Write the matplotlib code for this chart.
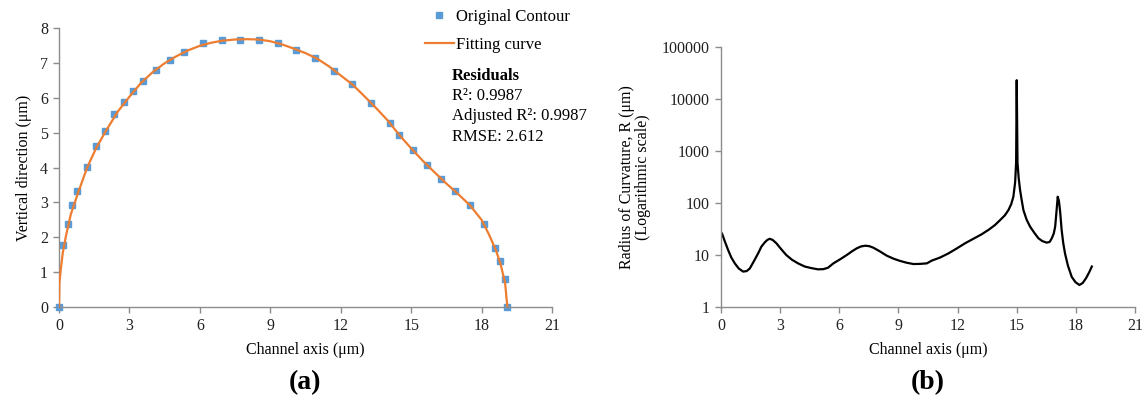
import matplotlib
matplotlib.use("Agg")
import matplotlib.pyplot as plt
from matplotlib.ticker import FixedLocator, FuncFormatter

plt.rcParams['font.family'] = ['Liberation Serif', 'DejaVu Serif']

# (a) contour points
contour_x = [0.0, 0.16, 0.37, 0.57, 0.78, 1.18, 1.58, 1.96, 2.36, 2.76, 3.15, 3.56,
             4.14, 4.74, 5.34, 6.13, 6.93, 7.72, 8.52, 9.31, 10.11, 10.91, 11.70,
             12.49, 13.29, 14.08, 14.48, 15.08, 15.67, 16.27, 16.87, 17.49, 18.09,
             18.58, 18.78, 18.98, 19.08]
contour_y = [0.0, 1.78, 2.38, 2.92, 3.33, 4.02, 4.61, 5.04, 5.52, 5.87, 6.18, 6.48,
             6.81, 7.09, 7.31, 7.56, 7.65, 7.67, 7.67, 7.57, 7.38, 7.15, 6.78,
             6.38, 5.85, 5.29, 4.94, 4.49, 4.07, 3.68, 3.32, 2.93, 2.39,
             1.70, 1.31, 0.81, 0.0]

# (a) fitted curve
fit_x = [0.0, 0.02, 0.08, 0.16, 0.3, 0.5, 0.8, 1.2, 1.6, 2.0, 2.5, 3.0, 3.5, 4.0,
         4.5, 5.0, 5.5, 6.0, 6.5, 7.0, 7.5, 8.0, 8.5, 9.0, 9.5, 10.0, 10.5, 11.0,
         11.5, 12.0, 12.5, 13.0, 13.5, 14.0, 14.5, 15.0, 15.5, 16.0, 16.5, 17.0,
         17.5, 18.0, 18.3, 18.6, 18.8, 19.0, 19.1]
fit_y = [0.0, 0.7, 1.1, 1.55, 2.05, 2.65, 3.25, 4.0, 4.58, 5.05, 5.6, 6.03, 6.43, 6.74,
         6.99, 7.19, 7.36, 7.49, 7.58, 7.64, 7.67, 7.68, 7.67, 7.62, 7.53, 7.41, 7.28, 7.12,
         6.9, 6.64, 6.38, 6.05, 5.71, 5.35, 4.93, 4.55, 4.19, 3.86, 3.54, 3.24,
         2.92, 2.5, 2.1, 1.65, 1.25, 0.7, 0.0]

# (b) radius of curvature
rc_x = [0.0, 0.05, 0.2, 0.36, 0.52, 0.7, 0.9, 1.12, 1.3, 1.46, 1.66, 1.88, 2.05, 2.22,
        2.35, 2.47, 2.62, 2.81, 3.05, 3.31, 3.6, 3.91, 4.25, 4.58, 4.92, 5.2, 5.43,
        5.70, 6.05, 6.38, 6.65, 6.88, 7.1, 7.31, 7.52, 7.73, 8.05, 8.41, 8.75, 9.08,
        9.42, 9.76, 10.1, 10.44, 10.69, 11.1, 11.53, 11.95, 12.38, 12.8, 13.22, 13.6,
        13.9, 14.16, 14.4, 14.58, 14.72, 14.83, 14.92, 14.97, 15.0, 15.04, 15.1, 15.17,
        15.25, 15.34, 15.5, 15.68, 15.9, 16.1, 16.3, 16.52, 16.67, 16.78, 16.88, 16.95,
        17.02, 17.08, 17.14, 17.2, 17.28, 17.36, 17.45, 17.6, 17.79, 17.98, 18.18, 18.35,
        18.52, 18.67, 18.81]
rc_y = [27, 26, 18, 12.5, 9.0, 6.9, 5.5, 4.8, 4.9, 5.5, 7.5, 10.7, 14.5, 17.5,
        19.5, 20.5, 19.5, 16.8, 13, 10, 8.1, 6.9, 6.0, 5.6, 5.3, 5.35, 5.7,
        6.9, 8.3, 10, 11.8, 13.4, 14.6, 15.1, 14.8, 13.8, 11.8, 9.7, 8.5, 7.7,
        7.1, 6.7, 6.75, 6.9, 7.8, 8.9, 10.7, 13.3, 16.8, 20.5, 25, 31,
        37.8, 47, 58, 73, 95, 132, 250, 600, 23000, 600, 300, 178,
        115, 73, 48, 35, 26.5, 21, 18.5, 17.3, 17.8, 21, 26, 35,
        70, 132, 110, 70, 30, 17, 10.7, 6.2, 3.8, 3.0, 2.65, 2.9,
        3.6, 4.6, 6.0]

GRAY = '#8c8c8c'

fig = plt.figure(figsize=(11.45, 4.03), dpi=100)
ax1 = fig.add_axes([59 / 1145, 96 / 403, 493 / 1145, 279 / 403])
ax2 = fig.add_axes([721 / 1145, 96 / 403, 414 / 1145, 260 / 403])

for ax in (ax1, ax2):
    for s in ('top', 'right'):
        ax.spines[s].set_visible(False)
    for s in ('left', 'bottom'):
        ax.spines[s].set_color(GRAY)
        ax.spines[s].set_linewidth(1.0)
    ax.tick_params(direction='out', length=4, width=1, color=GRAY,
                   labelsize=11.5, labelcolor='#222222', pad=4)
    ax.set_xlim(0, 21)
    ax.set_xticks(range(0, 22, 3))
    ax.set_xlabel('Channel axis (μm)', fontsize=11.5, labelpad=6)

# (a)
ax1.plot(fit_x, fit_y, color='#ED7D31', lw=1.6, label='Fitting curve', zorder=3)
ax1.plot(contour_x, contour_y, ls='none', marker='s', ms=4.2, color='#5B9BD5',
         label='Original Contour', clip_on=False, zorder=2)
ax1.set_ylim(0, 8)
ax1.set_yticks(range(0, 9))
ax1.set_ylabel('Vertical direction (μm)', fontsize=11.5, labelpad=6)

h, l = ax1.get_legend_handles_labels()
fig.legend(h[::-1], l[::-1], loc='upper left', bbox_to_anchor=(418 / 1145, 1 - 2 / 403),
           frameon=False, fontsize=12, handlelength=1.75, handletextpad=0.15,
           labelspacing=0.75, borderaxespad=0)

fig.text(452 / 1145, 1 - 76 / 403, 'Residuals', fontsize=12, fontweight='bold', va='center')
stats = ['R²: 0.9987', 'Adjusted R²: 0.9987', 'RMSE: 2.612']
for i, s in enumerate(stats):
    fig.text(452 / 1145, 1 - (96 + 20.5 * i) / 403, s, fontsize=12, va='center')

# (b)
ax2.plot(rc_x, rc_y, color='black', lw=1.6, solid_joinstyle='round')
ax2.set_yscale('log')
ax2.set_ylim(1, 100000)
ax2.yaxis.set_major_locator(FixedLocator([1, 10, 100, 1000, 10000, 100000]))
ax2.yaxis.set_minor_locator(FixedLocator([]))
ax2.yaxis.set_major_formatter(FuncFormatter(lambda v, p: f'{v:.0f}'))
ax2.set_ylabel('Radius of Curvature, R (μm)\n(Logarithmic scale)', fontsize=11.5,
               labelpad=8, linespacing=1.0)

fig.text(305 / 1145, 1 - 383 / 403, '(a)', fontsize=20, fontweight='bold',
         ha='center', va='center')
fig.text(928 / 1145, 1 - 383 / 403, '(b)', fontsize=20, fontweight='bold',
         ha='center', va='center')

fig.savefig('out.png', dpi=100)
